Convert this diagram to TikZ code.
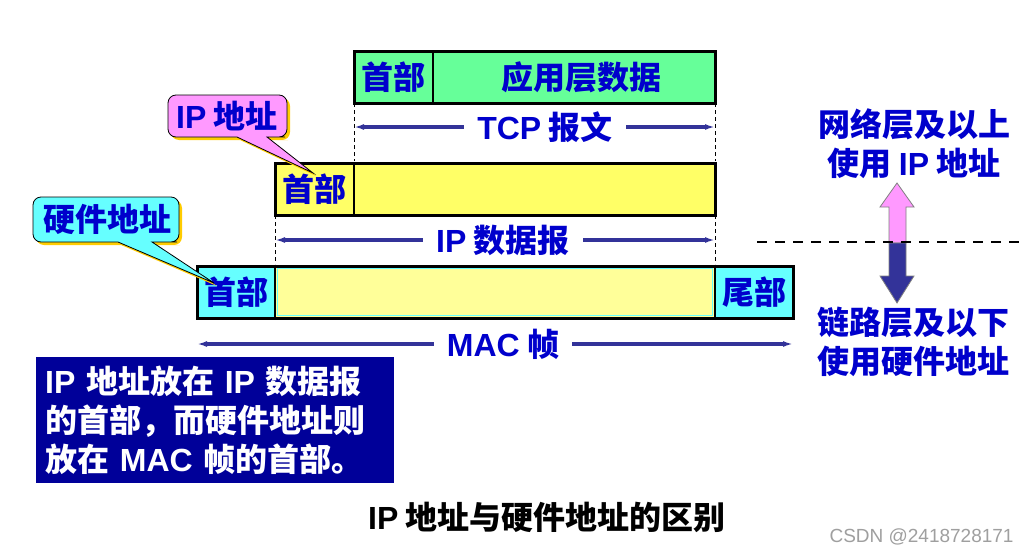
\documentclass[tikz,border=0pt]{standalone}
\usepackage{fontspec}
\setmainfont{Liberation Sans}
\newfontfamily\latf{Liberation Sans}
\newfontfamily\cjk{Noto Sans CJK SC}
\newcommand\La[1]{{\latf\bfseries #1}}
\usetikzlibrary{arrows.meta}
\definecolor{tcpgreen}{HTML}{66FF99}
\definecolor{ipyel}{HTML}{FFFF66}
\definecolor{macyel}{HTML}{FFFF99}
\definecolor{maccyan}{HTML}{66FFFF}
\definecolor{callpink}{HTML}{FF99FF}
\definecolor{shadowyel}{HTML}{FFCC00}
\definecolor{tblue}{HTML}{0000CC}
\definecolor{mblue}{HTML}{333399}
\definecolor{boxblue}{HTML}{000099}
\begin{document}
\begin{tikzpicture}[x=1pt,y=-1pt,
  txt/.style={font=\cjk\bfseries\fontsize{32}{39}\selectfont, text=tblue},
  seg/.style={draw=black, line width=2pt, anchor=north west, minimum height=52, inner sep=0pt, outer sep=0pt, txt},
  meas/.style={draw=mblue, line width=3.5pt, {Latex[length=10pt,width=6pt]}-{Latex[length=10pt,width=6pt]}},
  guide/.style={dashed, dash pattern=on 4pt off 3pt, line width=0.8pt},
  lbl/.style={txt, fill=white, inner xsep=13pt, inner ysep=1pt},
  frame/.style={line width=3pt},
  calloutline/.style={draw=black, line width=0.8pt},
]
\useasboundingbox (0,0) rectangle (1035,554);
\fill[white] (0,0) rectangle (1035,554);

% ---------- TCP segment ----------
\node[seg, fill=tcpgreen, minimum width=79] (tcph) at (354,51) {首部};
\node[seg, fill=tcpgreen, minimum width=282, text=tblue] (tcpd) at (433,51) {\hspace*{14pt}应用层数据};
\draw[frame] (tcph.north west) rectangle (tcpd.south east);

% ---------- IP datagram ----------
\node[seg, fill=ipyel, minimum width=79] (iph) at (275,163) {首部};
\node[seg, fill=ipyel, minimum width=361] (ipd) at (354,163) {};
\draw[frame] (iph.north west) rectangle (ipd.south east);

% ---------- MAC frame ----------
\node[seg, fill=maccyan, minimum width=78] (mach) at (197,266) {首部};
\node[seg, fill=macyel, minimum width=440] (macd) at (275,266) {};
\node[seg, fill=maccyan, minimum width=78] (mact) at (715,266) {尾部};
\draw[maccyan, line width=1.5pt] ([shift={(2.5,2.5)}]macd.north west) rectangle ([shift={(-2.5,-2.5)}]macd.south east);
\draw[frame] (mach.north west) rectangle (mact.south east);

% ---------- guides and measures ----------
\draw[guide] (tcph.south west) -- (tcph.south west |- 0,161);
\draw[guide] (tcpd.south east) -- (tcpd.south east |- 0,161);
\draw[meas] (tcph.south west |- 0,127) -- (tcpd.south east |- 0,127);
\node[lbl] (tcplbl) at (545,127) {\La{TCP} 报文};

\draw[guide] (iph.south west) -- (iph.south west |- 0,264);
\draw[guide] (ipd.south east) -- (ipd.south east |- 0,264);
\draw[meas] (iph.south west |- 0,240) -- (ipd.south east |- 0,240);
\node[lbl] (iplbl) at (503,240) {\La{IP} 数据报};

\draw[meas] (mach.south west |- 0,344) -- (mact.south east |- 0,344);
\node[lbl] (maclbl) at (503,344) {\La{MAC} 帧};

% ---------- callouts ----------
\coordinate (iptip) at (313,173);
\coordinate (hwtip) at (214,283);
\fill[shadowyel] (240,140) [rounded corners=8pt] -- (171,140) -- (171,98) -- (290,98) -- (290,140) -- (280,140) [sharp corners] -- (270,140) -- ([shift={(3,3)}]iptip) -- cycle;
\filldraw[fill=callpink, calloutline] (237,137) [rounded corners=8pt] -- (168,137) -- (168,95) -- (287,95) -- (287,137) -- (277,137) [sharp corners] -- (267,137) -- (iptip) -- cycle;
\node[txt] (ipcall) at (227,116) {\La{IP} 地址};

\fill[shadowyel] (121,245) [rounded corners=8pt] -- (36,245) -- (36,200) -- (182,200) -- (182,245) -- (172,245) [sharp corners] -- (155,245) -- ([shift={(3,3)}]hwtip) -- cycle;
\filldraw[fill=maccyan, calloutline] (118,242) [rounded corners=8pt] -- (33,242) -- (33,197) -- (179,197) -- (179,242) -- (169,242) [sharp corners] -- (152,242) -- (hwtip) -- cycle;
\node[txt] (hwcall) at (107,219) {硬件地址};

% ---------- right side ----------
\node[txt, align=center] (upper) at (914,144) {网络层及以上\\使用 \La{IP} 地址};
\node[txt, align=center] (lower) at (913,342) {链路层及以下\\使用硬件地址};
\filldraw[fill=callpink, draw=gray, line width=0.8pt] (889,243) -- (889,207) -- (880,207) -- (897,183) -- (914,207) -- (906,207) -- (906,243) -- cycle;
\filldraw[fill=mblue, draw=gray, line width=0.8pt] (889,243) -- (889,276) -- (880,276) -- (897,303) -- (914,276) -- (906,276) -- (906,243) -- cycle;
\coordinate (dashL) at (757,242);
\coordinate (dashR) at (1022,242);
\draw[line width=2.5pt, dash pattern=on 10pt off 8pt] (dashL) -- (dashR);

% ---------- note box ----------
\node[txt, text=white, fill=boxblue, align=left, text width=340, inner xsep=9pt, inner ysep=0pt, minimum height=126, anchor=north west] (note) at (36,357)
  {\La{IP} 地址放在 \La{IP} 数据报\\的首部，而硬件地址则\\放在 \La{MAC} 帧的首部。};

% ---------- caption & watermark ----------
\node[font=\cjk\bfseries\fontsize{32}{38}\selectfont] (caption) at (547,517) {\La{IP} 地址与硬件地址的区别};
\node[font=\latf\fontsize{19}{22}\selectfont, text=gray!75, anchor=west] (wm) at (826,537) {CSDN @2418728171};
\end{tikzpicture}
\end{document}
